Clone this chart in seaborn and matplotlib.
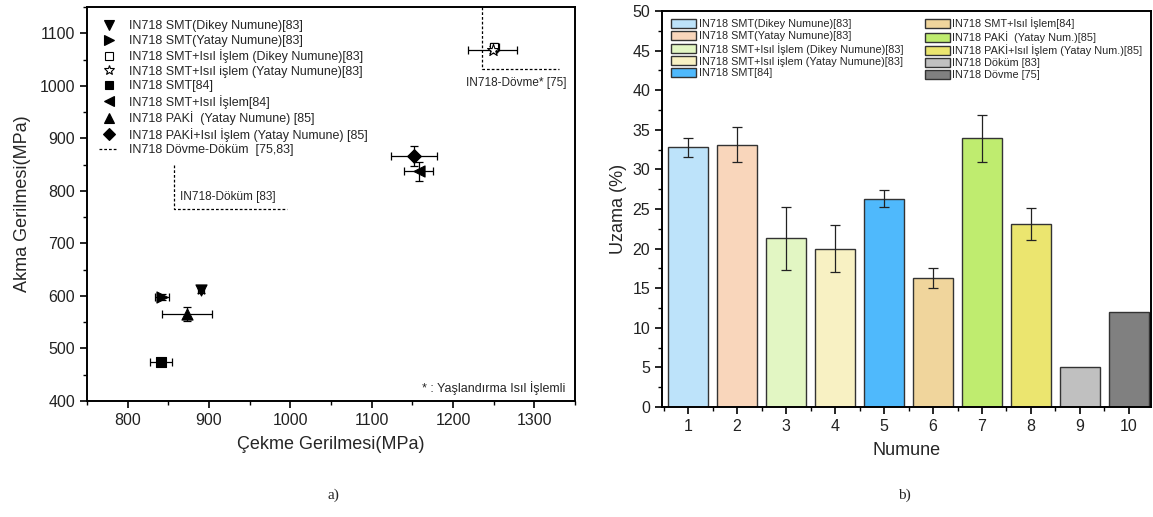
import numpy as np
import pandas as pd
import matplotlib
matplotlib.use("Agg")
import matplotlib.pyplot as plt
from matplotlib.lines import Line2D
from matplotlib.ticker import MultipleLocator, FixedLocator
import seaborn as sns

sns.set_theme(style="ticks")
plt.rcParams['font.family'] = ['Liberation Sans', 'DejaVu Sans']

# ---------------- data: panel a ----------------
sc_labels = ["IN718 SMT(Dikey Numune)[83]",
             "IN718 SMT(Yatay Numune)[83]",
             "IN718 SMT+Isıl İşlem (Dikey Numune)[83]",
             "IN718 SMT+Isıl işlem (Yatay Numune)[83]",
             "IN718 SMT[84]",
             "IN718 SMT+Isıl İşlem[84]",
             "IN718 PAKİ  (Yatay Numune) [85]",
             "IN718 PAKİ+Isıl İşlem (Yatay Numune) [85]"]
uts = [890, 842, 1251, 1249, 841, 1158, 873, 1152]
ys = [612, 598, 1073, 1069, 474, 837, 566, 866]
uts_err = [4, 9, 6, 30, 13, 18, 31, 28]
ys_err = [6, 5, 8, 6, 6, 18, 13, 19]
sc_markers = ["v", ">", "s", "*", "s", "<", "^", "D"]
sc_filled = [True, True, False, False, True, True, True, True]
sc_sizes = [8, 8, 6, 9, 6.5, 8, 8, 7]

dokum_x = [857, 857, 996]
dokum_y = [850, 766, 766]
dovme_x = [1236, 1236, 1330]
dovme_y = [1150, 1032, 1032]

# ---------------- data: panel b ----------------
numune = ["1", "2", "3", "4", "5", "6", "7", "8", "9", "10"]
uzama = [32.8, 33.1, 21.3, 20.0, 26.3, 16.3, 33.9, 23.1, 5.0, 12.0]
uzama_err = [1.2, 2.2, 3.95, 3.0, 1.1, 1.3, 3.0, 2.0, 0.0, 0.0]
bar_labels = ["IN718 SMT(Dikey Numune)[83]",
              "IN718 SMT(Yatay Numune)[83]",
              "IN718 SMT+Isıl İşlem (Dikey Numune)[83]",
              "IN718 SMT+Isıl işlem (Yatay Numune)[83]",
              "IN718 SMT[84]",
              "IN718 SMT+Isıl İşlem[84]",
              "IN718 PAKİ  (Yatay Num.)[85]",
              "IN718 PAKİ+Isıl İşlem (Yatay Num.)[85]",
              "IN718 Döküm [83]",
              "IN718 Dövme [75]"]
bar_colors = ["#bde3fa", "#f9d6bb", "#e2f6c3", "#f8f1c3", "#4fb9fc",
              "#f0d59c", "#bfec6f", "#ebe56f", "#c0c0c0", "#808080"]

fig = plt.figure(figsize=(11.53, 5.17), dpi=100)
axa = fig.add_axes([0.0755, 0.2244, 0.4232, 0.7621])
axb = fig.add_axes([0.5742, 0.2128, 0.4241, 0.7660])

# ---------- panel a ----------
dash = (0, (2.2, 1.6))
axa.plot(dokum_x, dokum_y, color="black", lw=0.9, ls=dash)
axa.plot(dovme_x, dovme_y, color="black", lw=0.9, ls=dash)
handles = []
for i in range(len(sc_labels)):
    axa.errorbar(uts[i], ys[i], xerr=uts_err[i], yerr=ys_err[i], fmt="none",
                 ecolor="black", elinewidth=0.9, capsize=3, capthick=0.9, zorder=3)
    df = pd.DataFrame({"x": [uts[i]], "y": [ys[i]]})
    fc = "black" if sc_filled[i] else "white"
    sns.scatterplot(data=df, x="x", y="y", ax=axa, marker=sc_markers[i],
                    s=sc_sizes[i] ** 2, color=fc, edgecolor="black",
                    linewidth=0.8, zorder=4, legend=False)
    handles.append(Line2D([], [], ls="none", marker=sc_markers[i],
                          markersize=sc_sizes[i] * (0.8 if sc_markers[i] == "*" else 0.9),
                          markerfacecolor=fc, markeredgecolor="black", markeredgewidth=0.8))
handles.append(Line2D([], [], color="black", lw=0.9, ls=dash))
leg_labels = sc_labels + ["IN718 Dövme-Döküm  [75,83]"]
axa.legend(handles, leg_labels, loc="upper left", bbox_to_anchor=(0.01, 0.985),
           frameon=False, fontsize=9, labelspacing=0.2, handlelength=1.5,
           handletextpad=0.9, borderaxespad=0.2)

axa.text(864, 776, "IN718-Döküm [83]", fontsize=8.5, ha="left", va="bottom")
axa.text(1278, 1005, "IN718-Dövme* [75]", fontsize=8.5, ha="center", va="center")
axa.text(1338, 425, "* : Yaşlandırma Isıl İşlemli", fontsize=9, ha="right", va="center")

axa.set_xlim(750, 1350)
axa.set_ylim(400, 1150)
axa.xaxis.set_major_locator(FixedLocator([800, 900, 1000, 1100, 1200, 1300]))
axa.xaxis.set_minor_locator(MultipleLocator(50))
axa.yaxis.set_major_locator(MultipleLocator(100))
axa.yaxis.set_minor_locator(MultipleLocator(50))
axa.set_xlabel("Çekme Gerilmesi(MPa)", fontsize=13, labelpad=6)
axa.set_ylabel("Akma Gerilmesi(MPa)", fontsize=13, labelpad=6)

# ---------- panel b ----------
dfb = pd.DataFrame({"Numune": numune, "Uzama": uzama, "Etiket": bar_labels})
sns.barplot(data=dfb, x="Numune", y="Uzama", hue="Etiket", palette=bar_colors,
            hue_order=bar_labels, order=numune, dodge=False, width=0.8,
            saturation=1, edgecolor="#333333", linewidth=1.0, ax=axb, errorbar=None)
pos = np.arange(len(numune))
mask = np.array(uzama_err) > 0
axb.errorbar(pos[mask], np.array(uzama)[mask], yerr=np.array(uzama_err)[mask],
             fmt="none", ecolor="#222222", elinewidth=0.9, capsize=3.5, capthick=0.9, zorder=5)
axb.legend(loc="upper left", bbox_to_anchor=(0.005, 1.0), ncol=2, frameon=False,
           fontsize=7.8, labelspacing=0.15, handlelength=2.3, handleheight=0.9,
           handletextpad=0.25, columnspacing=2.0, borderaxespad=0.2)
axb.set_xlim(-0.53, 9.45)
axb.set_ylim(0, 50)
axb.yaxis.set_major_locator(MultipleLocator(5))
axb.yaxis.set_minor_locator(MultipleLocator(2.5))
axb.xaxis.set_minor_locator(FixedLocator(np.arange(-0.5, 9.6, 1.0)))
axb.set_xlabel("Numune", fontsize=13, labelpad=6)
axb.set_ylabel("Uzama (%)", fontsize=13, labelpad=4)

for ax in (axa, axb):
    for s in ax.spines.values():
        s.set_linewidth(1.4)
        s.set_color("black")
    ax.tick_params(axis="both", which="major", direction="out", length=5, width=1.2,
                   labelsize=11.5, colors="black", labelcolor="#222222")
    ax.tick_params(axis="both", which="minor", direction="out", length=3, width=1.0,
                   colors="black")
    ax.set_facecolor("white")

fig.text(0.289, 0.042, "a)", fontsize=11, family="Liberation Serif", ha="center", va="center")
fig.text(0.784, 0.042, "b)", fontsize=11, family="Liberation Serif", ha="center", va="center")

fig.savefig("out.png", dpi=100, facecolor="white")
